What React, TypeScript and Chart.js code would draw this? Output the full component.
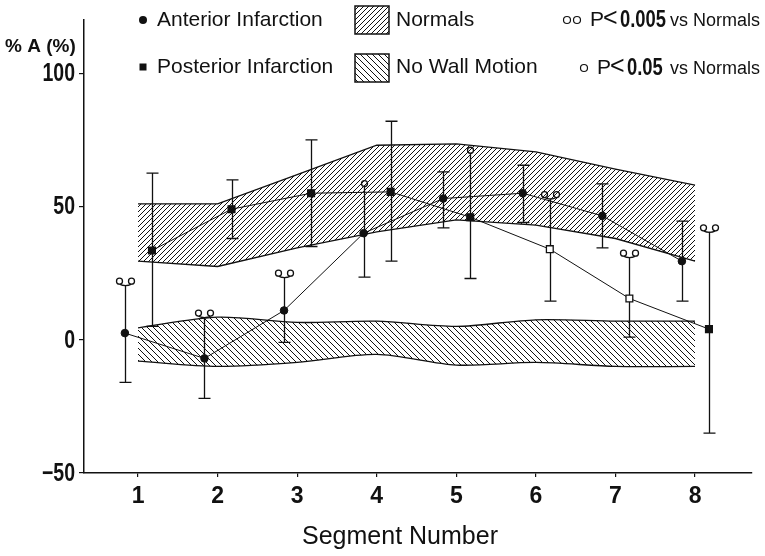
import React, { useEffect, useRef } from "react";
import { Chart, registerables } from "chart.js";
Chart.register(...registerables);

// ---------- data ----------
const segments = [1, 2, 3, 4, 5, 6, 7, 8];
const segmentLabels = ["1", "2", "3", "4", "5", "6", "7", "8"];
const yTickValues = [-50, 0, 50, 100];
const yTickLabels = ["\u221250", "0", "50", "100"];

const anteriorMean = [2.5, -7, 11, 40, 53, 55, 46.5, 29.5];
const anteriorUpper = [20.5, 8.5, 23.5, 57.5, 63, 65.5, 58.5, 44.5];
const anteriorLower = [-16, -22, -1, 23.5, 42, 44, 34.5, 14.5];
const anteriorSig = ["oo", "oo", "oo", "o", "", "", "", ""];

const posteriorMean = [33.5, 49, 55, 55.5, 46, 34, 15.5, 4];
const posteriorUpper = [62.5, 60, 75, 82, 70, 53, 31, 40.5];
const posteriorLower = [5, 38, 35, 29.5, 23, 14.5, 1, -35];
const posteriorSig = ["", "", "", "", "o", "oo", "oo", "oo"];
const posteriorOpen = [false, false, false, false, false, true, true, false];

const normalsUpper = [51, 51, 62, 73, 73.5, 70.5, 64, 58];
const normalsLower = [29.5, 27.5, 34.5, 40.5, 45, 43, 38, 29.5];
const noWallUpper = [4.5, 8.5, 6.5, 7, 5, 7.5, 7, 7];
const noWallLower = [-8, -10, -8.5, -5.5, -9.5, -8.5, -10, -10];

const anteriorOffset = -0.165;
const posteriorOffset = 0.175;

const INK = "#111";
const SANS = "'Liberation Sans', Arial, sans-serif";

function makeHatch(dir: "fwd" | "back", size: number, lw: number) {
  const c = document.createElement("canvas");
  c.width = size;
  c.height = size;
  const g = c.getContext("2d")!;
  g.strokeStyle = INK;
  g.lineWidth = lw;
  g.beginPath();
  if (dir === "fwd") {
    g.moveTo(-1, 1); g.lineTo(1, -1);
    g.moveTo(0, size); g.lineTo(size, 0);
    g.moveTo(size - 1, size + 1); g.lineTo(size + 1, size - 1);
  } else {
    g.moveTo(0, 0); g.lineTo(size, size);
    g.moveTo(-1, size - 1); g.lineTo(1, size + 1);
    g.moveTo(size - 1, -1); g.lineTo(size + 1, 1);
  }
  g.stroke();
  return g.createPattern(c, "repeat")!;
}

function fillNarrow(
  ctx: CanvasRenderingContext2D, text: string, x: number, y: number,
  sx: number, align: CanvasTextAlign,
) {
  ctx.save();
  ctx.translate(x, y);
  ctx.scale(sx, 1);
  ctx.textAlign = align;
  ctx.fillText(text, 0, 0);
  ctx.restore();
}

function drawSig(ctx: CanvasRenderingContext2D, x: number, yTop: number, kind: string) {
  ctx.beginPath();
  if (kind === "o") {
    ctx.arc(x, yTop - 3, 3, 0, Math.PI * 2);
  } else if (kind === "oo") {
    ctx.moveTo(x - 3, yTop - 4);
    ctx.arc(x - 6, yTop - 4, 3, 0, Math.PI * 2);
    ctx.moveTo(x + 9, yTop - 4);
    ctx.arc(x + 6, yTop - 4, 3, 0, Math.PI * 2);
    ctx.moveTo(x - 6, yTop - 1);
    ctx.quadraticCurveTo(x, yTop + 2, x + 6, yTop - 1);
  }
  ctx.stroke();
}

const errorBarPlugin = {
  id: "errorBars",
  beforeDatasetsDraw(chart: any) {
    const ctx = chart.ctx as CanvasRenderingContext2D;
    const xs = chart.scales.x;
    const ys = chart.scales.y;
    const groups = [
      { up: anteriorUpper, lo: anteriorLower, sig: anteriorSig, off: anteriorOffset },
      { up: posteriorUpper, lo: posteriorLower, sig: posteriorSig, off: posteriorOffset },
    ];
    ctx.save();
    ctx.strokeStyle = INK;
    ctx.lineWidth = 1.3;
    for (const g of groups) {
      segments.forEach((s, i) => {
        const x = Math.round(xs.getPixelForValue(s + g.off)) + 0.5;
        const yU = ys.getPixelForValue(g.up[i]);
        const yL = ys.getPixelForValue(g.lo[i]);
        ctx.beginPath();
        ctx.moveTo(x, yU);
        ctx.lineTo(x, yL);
        ctx.moveTo(x - 6, yL);
        ctx.lineTo(x + 6, yL);
        if (!g.sig[i]) {
          ctx.moveTo(x - 6, yU);
          ctx.lineTo(x + 6, yU);
        }
        ctx.stroke();
        if (g.sig[i]) drawSig(ctx, x, yU, g.sig[i]);
      });
    }
    ctx.restore();
  },
};

const decorPlugin = {
  id: "decor",
  afterDraw(chart: any, _args: any, opts: any) {
    const ctx = chart.ctx as CanvasRenderingContext2D;
    const ys = chart.scales.y;
    ctx.save();
    ctx.fillStyle = INK;
    ctx.strokeStyle = INK;
    ctx.textBaseline = "middle";
    ctx.textAlign = "left";

    // y tick labels (condensed bold digits), placed through the y scale
    ctx.font = `bold 25px ${SANS}`;
    yTickValues.forEach((v, i) => {
      fillNarrow(ctx, yTickLabels[i], 75, ys.getPixelForValue(v) + 1, 0.78, "right");
    });

    // y-axis title
    ctx.font = `bold 19px ${SANS}`;
    ctx.fillText("% A (%)", 5, 47);

    // x-axis title
    ctx.textAlign = "center";
    ctx.font = `25px ${SANS}`;
    ctx.fillText("Segment Number", 400, 537);
    ctx.textAlign = "left";

    // legend column 1
    ctx.beginPath();
    ctx.arc(143, 20, 4, 0, Math.PI * 2);
    ctx.fill();
    ctx.fillRect(139.5, 63.5, 7, 7);
    ctx.font = `21px ${SANS}`;
    ctx.fillText("Anterior Infarction", 157, 20);
    ctx.fillText("Posterior Infarction", 157, 67);

    // legend column 2
    ctx.lineWidth = 1.5;
    if (opts.fwd) {
      ctx.fillStyle = opts.fwd;
      ctx.fillRect(355, 6, 34, 28);
    }
    ctx.strokeRect(355, 6, 34, 28);
    if (opts.back) {
      ctx.fillStyle = opts.back;
      ctx.fillRect(355, 54, 34, 28);
    }
    ctx.strokeRect(355, 54, 34, 28);
    ctx.fillStyle = INK;
    ctx.fillText("Normals", 396, 20);
    ctx.fillText("No Wall Motion", 396, 67);

    // legend column 3
    ctx.lineWidth = 1.2;
    ctx.beginPath();
    ctx.arc(567, 20, 3.5, 0, Math.PI * 2);
    ctx.moveTo(580.5, 20);
    ctx.arc(577, 20, 3.5, 0, Math.PI * 2);
    ctx.moveTo(587.5, 68);
    ctx.arc(584, 68, 3.5, 0, Math.PI * 2);
    ctx.stroke();
    ctx.font = `21px ${SANS}`;
    ctx.fillText("P", 590, 20);
    ctx.fillText("P", 597, 68);
    ctx.font = `25px ${SANS}`;
    ctx.fillText("<", 603, 19);
    ctx.fillText("<", 610, 67);
    ctx.font = `bold 23px ${SANS}`;
    fillNarrow(ctx, "0.005", 620, 21, 0.8, "left");
    fillNarrow(ctx, "0.05", 627, 69, 0.8, "left");
    ctx.font = `18px ${SANS}`;
    ctx.textAlign = "right";
    ctx.fillText("vs Normals", 760, 21);
    ctx.fillText("vs Normals", 760, 69);
    ctx.restore();
  },
};

export default function App() {
  const ref = useRef<HTMLCanvasElement | null>(null);

  useEffect(() => {
    const canvas = ref.current!;
    const fwd = makeHatch("fwd", 5, 1);
    const back = makeHatch("back", 6, 1);

    const band = (vals: number[]) => segments.map((s, i) => ({ x: s, y: vals[i] }));
    const chart: any = new Chart(canvas, {
      type: "line",
      data: {
        datasets: [
          {
            label: "Normals",
            data: band(normalsUpper),
            borderColor: INK,
            borderWidth: 1.3,
            backgroundColor: fwd,
            fill: "+1",
            pointRadius: 0,
            tension: 0,
          },
          {
            label: "Normals lower",
            data: band(normalsLower),
            borderColor: INK,
            borderWidth: 1.3,
            fill: false,
            pointRadius: 0,
            tension: 0,
          },
          {
            label: "No Wall Motion",
            data: band(noWallUpper),
            borderColor: INK,
            borderWidth: 1.3,
            backgroundColor: back,
            fill: "+1",
            pointRadius: 0,
            tension: 0.3,
          },
          {
            label: "No Wall Motion lower",
            data: band(noWallLower),
            borderColor: INK,
            borderWidth: 1.3,
            fill: false,
            pointRadius: 0,
            tension: 0.3,
          },
          {
            label: "Anterior Infarction",
            data: segments.map((s, i) => ({ x: s + anteriorOffset, y: anteriorMean[i] })),
            borderColor: INK,
            borderWidth: 1,
            backgroundColor: INK,
            pointBackgroundColor: INK,
            pointBorderColor: INK,
            pointStyle: "circle",
            pointRadius: 3.8,
            fill: false,
            tension: 0,
          },
          {
            label: "Posterior Infarction",
            data: segments.map((s, i) => ({ x: s + posteriorOffset, y: posteriorMean[i] })),
            borderColor: INK,
            borderWidth: 1,
            pointBackgroundColor: posteriorOpen.map((o) => (o ? "#fff" : INK)),
            pointBorderColor: INK,
            pointBorderWidth: 1.3,
            pointStyle: "rect",
            pointRadius: 4.8,
            fill: false,
            tension: 0,
          },
        ],
      },
      options: {
        animation: false,
        responsive: false,
        layout: { padding: { left: 0, right: 13, top: 20, bottom: 0 } },
        plugins: {
          legend: { display: false },
          tooltip: { enabled: false },
          title: { display: false },
          decor: { fwd, back },
        } as any,
        scales: {
          x: {
            type: "linear",
            min: 0.321,
            max: 8.716,
            afterFit: (s: any) => { s.height = 83; },
            afterBuildTicks: (s: any) => { s.ticks = segments.map((v) => ({ value: v })); },
            ticks: {
              color: INK,
              font: { family: SANS, size: 23, weight: "bold" },
              padding: 6,
              maxRotation: 0,
              autoSkip: false,
              callback: (v: any) => segmentLabels[segments.indexOf(Number(v))] ?? "",
            },
            grid: { drawOnChartArea: false, drawTicks: true, tickLength: 4, color: INK, lineWidth: 1.2 },
            border: { display: true, color: INK, width: 1.5 },
          },
          y: {
            type: "linear",
            min: -50,
            max: 120,
            afterFit: (s: any) => { s.width = 84; },
            afterBuildTicks: (s: any) => { s.ticks = yTickValues.map((v) => ({ value: v })); },
            ticks: { display: false },
            grid: { drawOnChartArea: false, drawTicks: true, tickLength: 5, color: INK, lineWidth: 1.2 },
            border: { display: true, color: INK, width: 1.5 },
          },
        },
      } as any,
      plugins: [errorBarPlugin, decorPlugin],
    });

    return () => chart.destroy();
  }, []);

  return (
    <div style={{ position: "fixed", left: 0, top: 0, width: 765, height: 556, background: "#fff" }}>
      <canvas ref={ref} width={765} height={556} style={{ display: "block" }} />
    </div>
  );
}
